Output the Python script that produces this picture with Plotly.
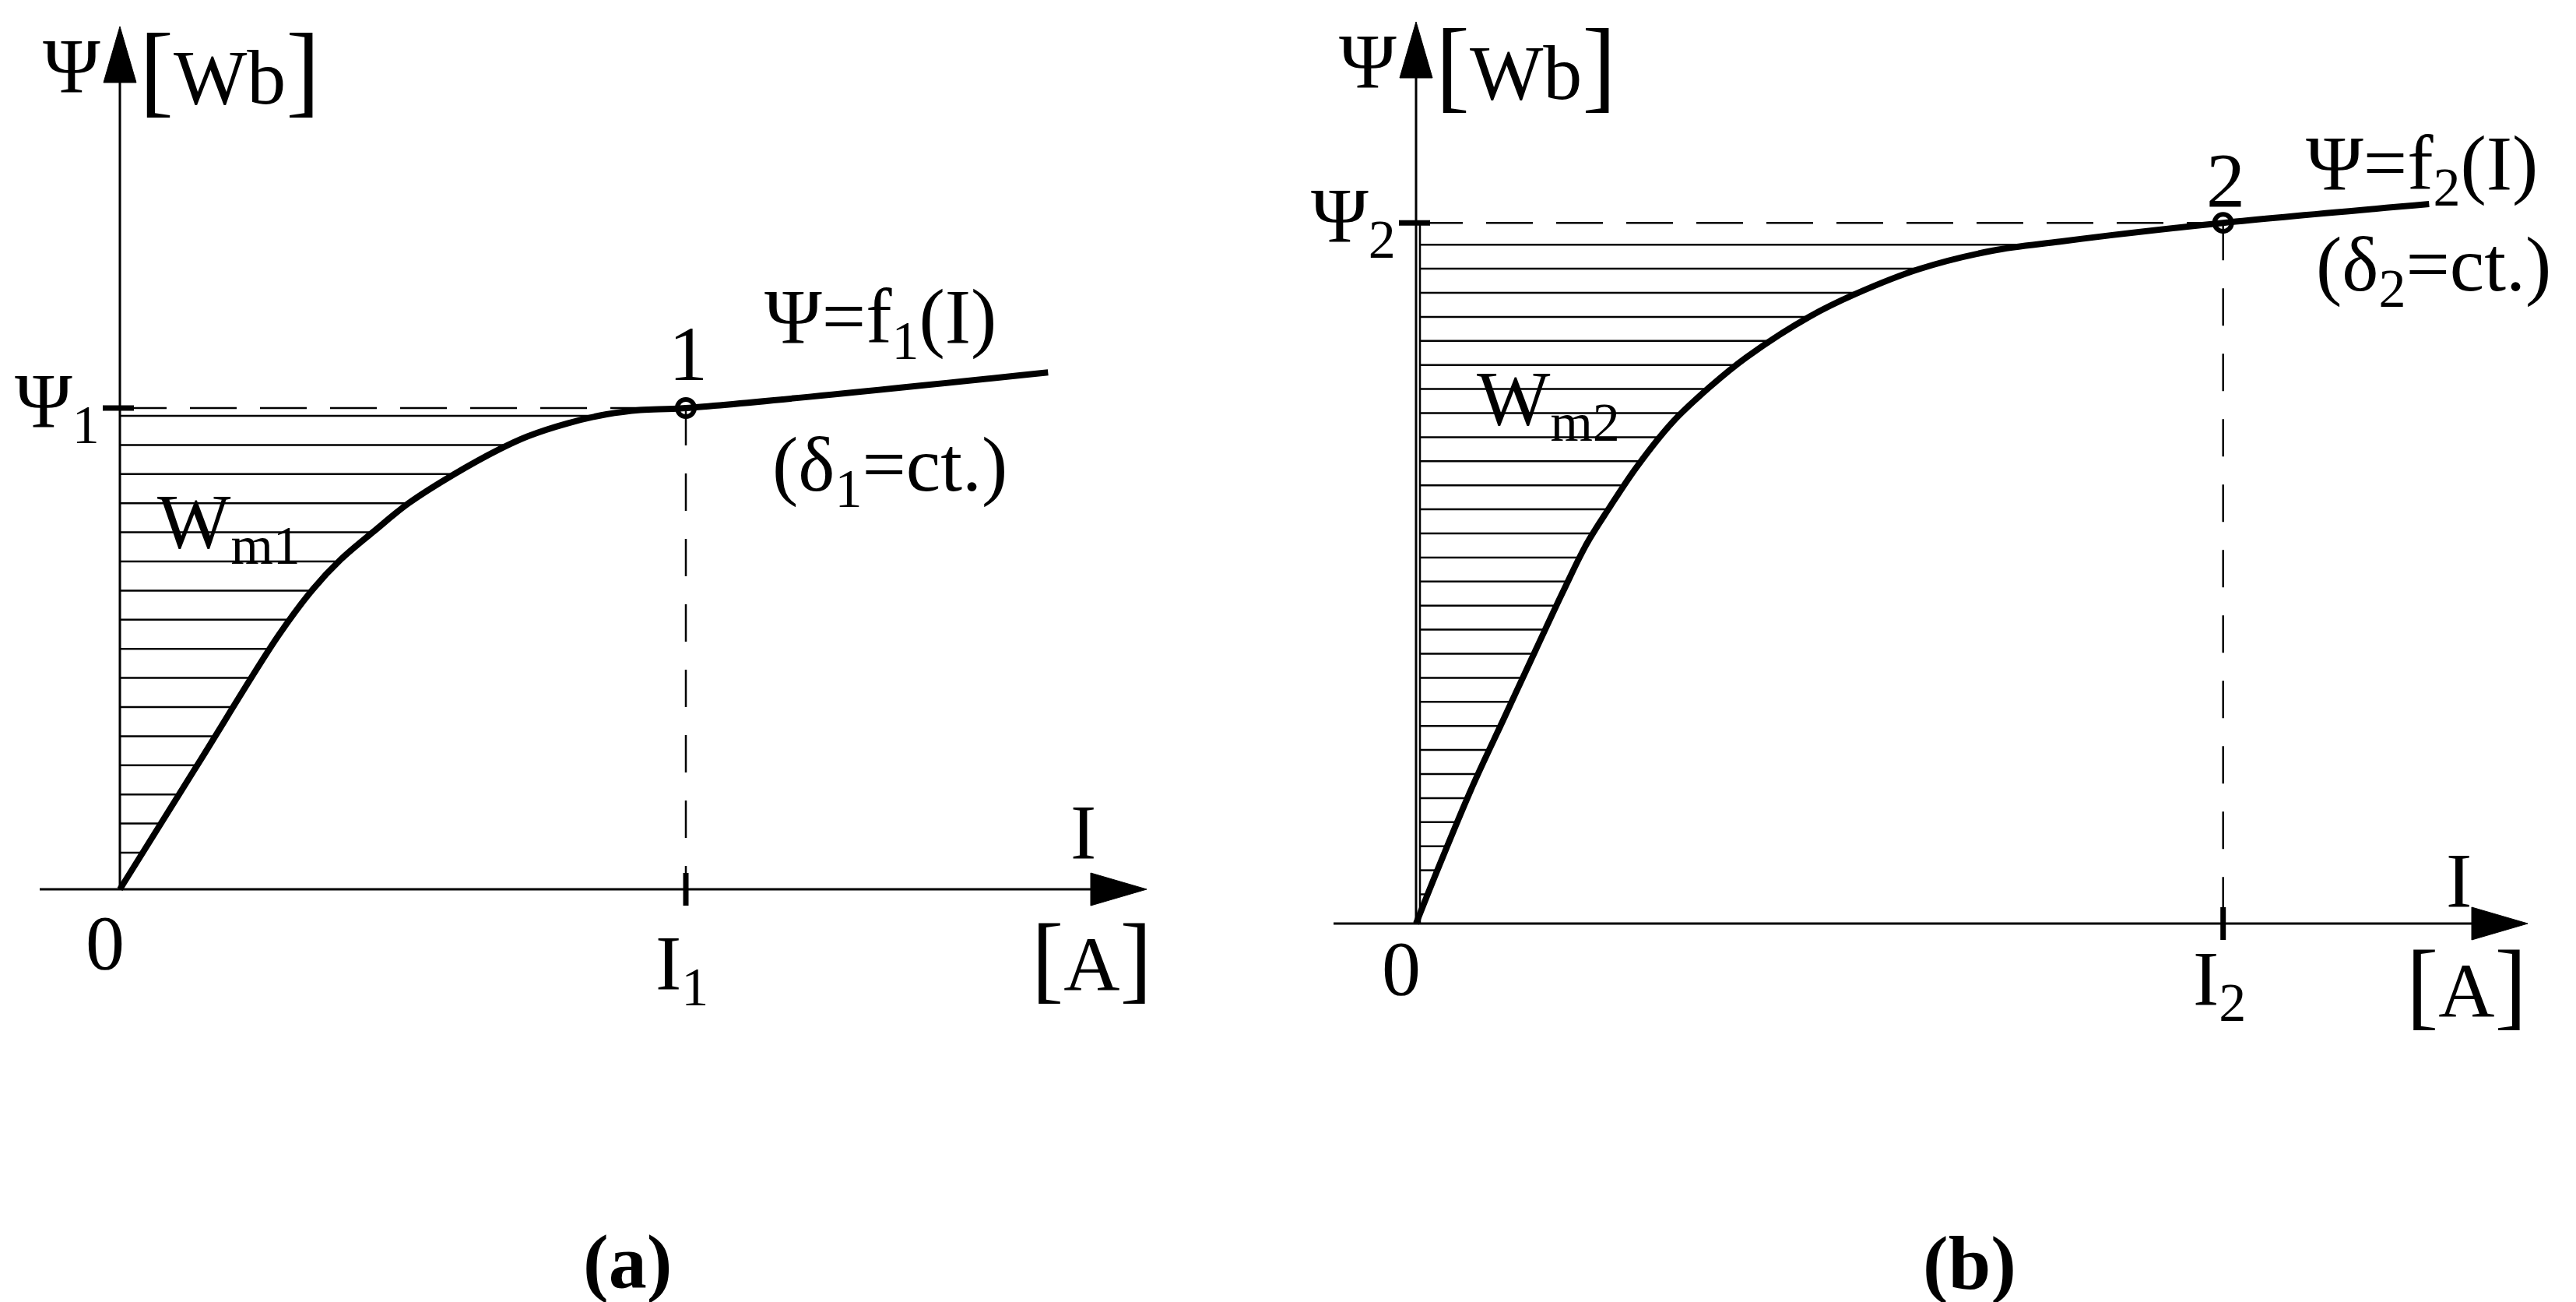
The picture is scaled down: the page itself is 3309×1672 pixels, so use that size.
import numpy as np
import plotly.graph_objects as go

# ---------------- data ----------------
# Panel (a): magnetisation curve psi = f1(I), delta1 = const
I_a = [0.0, 0.14, 0.28, 0.34, 0.39, 0.45, 0.51, 0.59, 0.67, 0.72, 0.79, 0.86, 0.92, 1.00, 1.64]
PSI_a = [0.0, 0.264, 0.527, 0.622, 0.685, 0.745, 0.802, 0.862, 0.914, 0.941, 0.968, 0.987, 0.996, 1.000, 1.074]
I1, PSI1 = 1.0, 1.0

# Panel (b): magnetisation curve psi = f2(I), delta2 = const
I_b = [0.0, 0.036, 0.100, 0.156, 0.212, 0.261, 0.301, 0.341, 0.390, 0.454, 0.518, 0.583,
       0.695, 0.776, 0.889, 1.018, 1.138, 1.233, 1.426, 1.790]
PSI_b = [0.0, 0.106, 0.286, 0.428, 0.570, 0.693, 0.788, 0.863, 0.949, 1.043, 1.114, 1.176,
         1.261, 1.308, 1.360, 1.398, 1.417, 1.431, 1.456, 1.495]
I2, PSI2 = 1.426, 1.456

# ---------------- geometry / style ----------------
W, H = 3309, 1672
PXX, PXY = 727.0, 618.0          # pixels per unit on I and psi axes
ORIG_A = (146.0, 1134.0)          # pixel position of origin of panel (a)
ORIG_B = (1811.0, 1178.0)         # pixel position of origin of panel (b)
FONT = "Liberation Serif"
FS = 100
BLACK = "black"


def dx(p):
    return p / PXX


def dy(p):
    return p / PXY


def xrange_for(orig_x, dom0, dom1):
    r0 = -(orig_x - dom0 * W) / PXX
    return [r0, r0 + (dom1 - dom0) * W / PXX]


def yrange_for(orig_y):
    r0 = -(H - orig_y) / PXY
    return [r0, r0 + H / PXY]


fig = go.Figure()


def hatch_trace(levels, I_c, P_c, x0, xa, ya):
    xs, ys = [], []
    for h in levels:
        xe = float(np.interp(h, P_c, I_c))
        xs += [x0, xe, None]
        ys += [h, h, None]
    return go.Scatter(x=xs, y=ys, mode="lines", xaxis=xa, yaxis=ya,
                      line=dict(color=BLACK, width=2.5), hoverinfo="skip")


def add_panel(I_c, P_c, Ip, Pp, xa, ya, hatch_top_px, hatch_step_px, hatch_n, hatch_x0):
    levels = [Pp - dy(hatch_top_px) - k * dy(hatch_step_px) for k in range(hatch_n)]
    fig.add_trace(hatch_trace(levels, I_c, P_c, hatch_x0, xa, ya))
    # dashed guide lines
    fig.add_trace(go.Scatter(x=[0, Ip], y=[Pp, Pp], mode="lines", xaxis=xa, yaxis=ya,
                             line=dict(color=BLACK, width=2.5, dash="60px,30px"), hoverinfo="skip"))
    fig.add_trace(go.Scatter(x=[Ip, Ip], y=[Pp, 0], mode="lines", xaxis=xa, yaxis=ya,
                             line=dict(color=BLACK, width=2.5, dash="48px,36px"), hoverinfo="skip"))
    # curve
    fig.add_trace(go.Scatter(x=I_c, y=P_c, mode="lines", xaxis=xa, yaxis=ya,
                             line=dict(color=BLACK, width=8, shape="spline", smoothing=1.0),
                             hoverinfo="skip"))
    # operating point
    fig.add_trace(go.Scatter(x=[Ip], y=[Pp], mode="markers", xaxis=xa, yaxis=ya,
                             marker=dict(symbol="circle-open", size=22, color=BLACK,
                                         line=dict(width=6, color=BLACK)),
                             hoverinfo="skip"))


add_panel(I_a, PSI_a, I1, PSI1, "x", "y", 10, 37.4, 16, 0.0)
add_panel(I_b, PSI_b, I2, PSI2, "x2", "y2", 28, 30.9, 28, dx(5))

shapes = []


def axis_shapes(xr, yr, x_left_px, x_tip_px, y_tip_px, Ip, Pp):
    out = []
    xl, xt, yt = dx(x_left_px), dx(x_tip_px), dy(y_tip_px)
    ah_len, ah_half = 72, 21
    lw = dict(color=BLACK, width=3)
    out.append(dict(type="line", xref=xr, yref=yr, x0=xl, y0=0, x1=xt - dx(ah_len), y1=0, line=lw))
    out.append(dict(type="line", xref=xr, yref=yr, x0=0, y0=0, x1=0, y1=yt - dy(ah_len), line=lw))
    out.append(dict(type="path", xref=xr, yref=yr,
                    path=f"M {xt},0 L {xt - dx(ah_len)},{dy(ah_half)} L {xt - dx(ah_len)},{-dy(ah_half)} Z",
                    fillcolor=BLACK, line=dict(color=BLACK, width=1)))
    out.append(dict(type="path", xref=xr, yref=yr,
                    path=f"M 0,{yt} L {dx(ah_half)},{yt - dy(ah_len)} L {-dx(ah_half)},{yt - dy(ah_len)} Z",
                    fillcolor=BLACK, line=dict(color=BLACK, width=1)))
    # bold ticks at operating values
    tk = dict(color=BLACK, width=7)
    out.append(dict(type="line", xref=xr, yref=yr, x0=-dx(22), y0=Pp, x1=dx(18), y1=Pp, line=tk))
    out.append(dict(type="line", xref=xr, yref=yr, x0=Ip, y0=-dy(21), x1=Ip, y1=dy(21), line=tk))
    return out


shapes += axis_shapes("x", "y", -103, 1319, 1108, I1, PSI1)
shapes += axis_shapes("x2", "y2", -106, 1428, 1158, I2, PSI2)
# inner boundary line of the hatched area in (b)
shapes.append(dict(type="line", xref="x2", yref="y2", x0=dx(5), y0=0, x1=dx(5), y1=PSI2,
                   line=dict(color=BLACK, width=2.5)))

ann = []
BR = '<span style="font-size:132px">[</span>'
BRR = '<span style="font-size:132px">]</span>'
BR2 = '<span style="font-size:124px">[</span>'
BRR2 = '<span style="font-size:124px">]</span>'


def A(text, x, y, xr, yr, xs=0, ys=0, xanchor="center", yanchor="middle", size=FS, bold=False):
    t = f"<b>{text}</b>" if bold else text
    ann.append(dict(text=t, x=x, y=y, xref=xr, yref=yr, xshift=xs, yshift=ys,
                    xanchor=xanchor, yanchor=yanchor, showarrow=False,
                    font=dict(family=FONT, size=size, color=BLACK)))


for (xr, yr, Ip, Pp, idx, ytip, f_xy, d_xy, wm_xy, pt_y, i_lab_y, zero_y) in [
    ("x", "y", I1, PSI1, "1", 1108, (1123 - 146, 1134 - 405), (1135 - 146, 1134 - 595),
     (286 - 146, 1134 - 668), 70, -101, -68),
    ("x2", "y2", I2, PSI2, "2", 1158, (3103 - 1811, 1178 - 208), (3118 - 1811, 1178 - 338),
     (1981 - 1811, 1178 - 510), 55, -77, -57),
]:
    A("Ψ", 0, dy(ytip - 50), xr, yr, xs=-62)
    A(f"{BR}Wb{BRR}", 0, dy(ytip - 54), xr, yr, xs=141)
    A(f"Ψ<sub>{idx}</sub>", 0, Pp, xr, yr, xs=-24, ys=3, xanchor="right")
    A("0", 0, 0, xr, yr, xs=-19, ys=zero_y)
    A(f"I<sub>{idx}</sub>", Ip, 0, xr, yr, xs=-5, ys=i_lab_y)
    A(idx, Ip, Pp, xr, yr, xs=3, ys=pt_y)
    A(f"Ψ=f<sub>{idx}</sub>(I)", dx(f_xy[0]), dy(f_xy[1]), xr, yr)
    A(f"(δ<sub>{idx}</sub>=ct.)", dx(d_xy[0]), dy(d_xy[1]), xr, yr)
    A(f"W<sub>m{idx}</sub>", dx(wm_xy[0]), dy(wm_xy[1]), xr, yr)

# axis-end labels
A("I", dx(1383 - 146), dy(1134 - 1060), "x", "y")
A(f"{BR2}A{BRR2}", dx(1394 - 146), dy(1134 - 1222), "x", "y")
A("I", dx(3150 - 1811), dy(1178 - 1122), "x2", "y2")
A(f"{BR2}A{BRR2}", dx(3160 - 1811), dy(1178 - 1256), "x2", "y2")

# panel captions
A("(a)", 798 / W, 1 - 1612 / H, "paper", "paper", size=98, bold=True)
A("(b)", 2522 / W, 1 - 1614 / H, "paper", "paper", size=98, bold=True)

fig.update_layout(
    width=W, height=H,
    margin=dict(l=0, r=0, t=0, b=0),
    paper_bgcolor="white", plot_bgcolor="white",
    showlegend=False, hovermode=False,
    xaxis=dict(domain=[0, 0.5], range=xrange_for(ORIG_A[0], 0, 0.5), visible=False, anchor="y"),
    yaxis=dict(domain=[0, 1], range=yrange_for(ORIG_A[1]), visible=False, anchor="x"),
    xaxis2=dict(domain=[0.5, 1], range=xrange_for(ORIG_B[0], 0.5, 1), visible=False, anchor="y2"),
    yaxis2=dict(domain=[0, 1], range=yrange_for(ORIG_B[1]), visible=False, anchor="x2"),
    shapes=shapes,
    annotations=ann,
)

fig.write_html("out.html")
